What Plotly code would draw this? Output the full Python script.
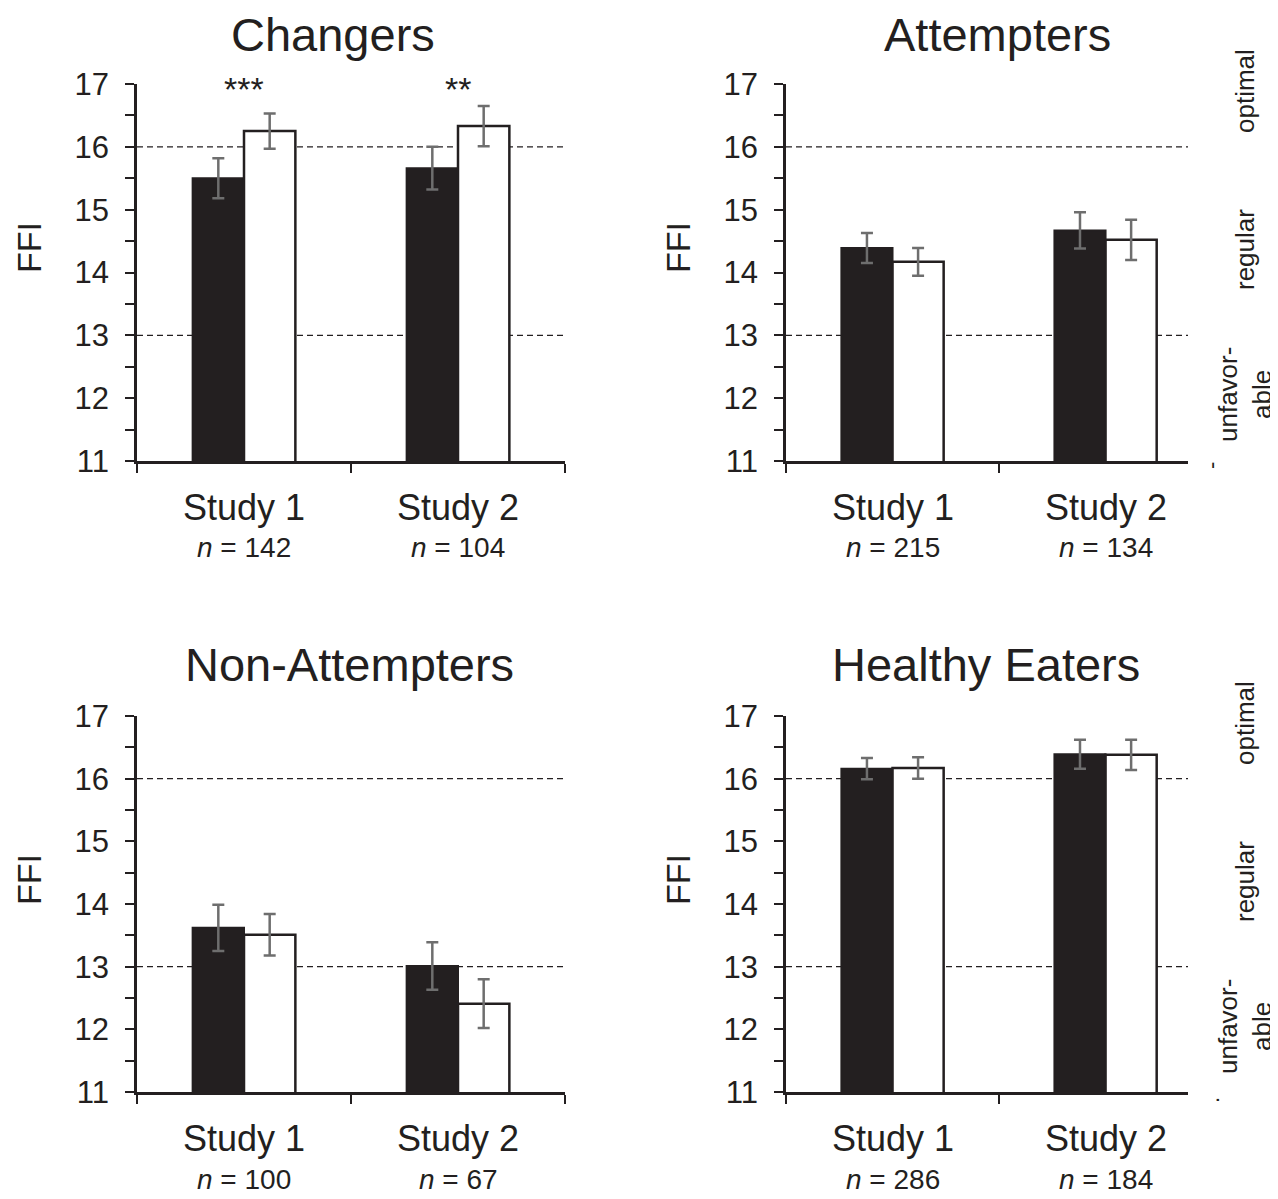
import plotly.graph_objects as go

# ---------------- data ----------------
groups = ["Changers", "Attempters", "Non-Attempters", "Healthy Eaters"]
studies = ["Study 1", "Study 2"]
study_pos = [0.5, 1.5]
n_values = [[142, 104], [215, 134], [100, 67], [286, 184]]
dark_means = [[15.50, 15.66], [14.39, 14.67], [13.62, 13.01], [16.16, 16.39]]
dark_err = [[0.32, 0.34], [0.24, 0.29], [0.37, 0.38], [0.17, 0.23]]
light_means = [[16.25, 16.33], [14.17, 14.52], [13.51, 12.41], [16.17, 16.38]]
light_err = [[0.28, 0.32], [0.22, 0.32], [0.33, 0.39], [0.17, 0.24]]
stars = [["***", "**"], ["", ""], ["", ""], ["", ""]]
y_ticks = [11, 11.5, 12, 12.5, 13, 13.5, 14, 14.5, 15, 15.5, 16, 16.5, 17]
ref_lines = [16, 13]
zone_labels = ["optimal", "regular", "unfavor-<br>able"]

# ---------------- layout geometry ----------------
W, H = 1278, 1199
OFF = 8  # page body margin of the browser
FONT = "Arial, 'Liberation Sans', sans-serif"
INK = "#231f20"
GRAY = "#6e6e6e"


def px_x(p):
    return (p - OFF) / W


def px_y(p):
    return 1 - (p - OFF) / H


# panel boxes in screen pixels: (left, right, top, bottom, xmax)
panels = [
    (137, 565, 84, 461, 2.0),
    (786, 1188, 84, 461, 1.887),
    (137, 565, 716, 1092, 2.0),
    (786, 1188, 716, 1092, 1.887),
]
title_pos = [(333, 35), (997, 35), (349, 664), (986, 664)]
ffi_y = [248, 248, 880, 880]
zone_offsets = [7, 166, 311]
edge_marks = [None, ("-", 466), None, (".", 1100)]

fig = go.Figure()
layout_axes = {}
annotations = []
shapes = []

for i, g in enumerate(groups):
    k = "" if i == 0 else str(i + 1)
    xa, ya = "x" + k, "y" + k
    L, R, T, B, xmax = panels[i]
    fig.add_trace(go.Bar(
        x=study_pos, y=dark_means[i], width=0.24, offset=-0.24,
        xaxis=xa, yaxis=ya,
        marker=dict(color=INK, line=dict(color=INK, width=2)),
        error_y=dict(type="data", array=dark_err[i], color=GRAY, thickness=2.5, width=6),
        showlegend=False,
    ))
    fig.add_trace(go.Bar(
        x=study_pos, y=light_means[i], width=0.24, offset=0.0,
        xaxis=xa, yaxis=ya,
        marker=dict(color="white", line=dict(color=INK, width=2.5)),
        error_y=dict(type="data", array=light_err[i], color=GRAY, thickness=2.5, width=6),
        showlegend=False,
    ))
    layout_axes["xaxis" + k] = dict(
        domain=[px_x(L), px_x(R)], range=[0, xmax], anchor=ya,
        tickvals=[0, 1, 2], showticklabels=False, ticks="outside", ticklen=9,
        tickwidth=2, tickcolor=INK, showline=True, linecolor=INK, linewidth=2.5,
        showgrid=False, zeroline=False, fixedrange=True,
    )
    layout_axes["yaxis" + k] = dict(
        domain=[px_y(B), px_y(T)], range=[11, 17], anchor=xa,
        tickvals=y_ticks,
        ticktext=[str(int(v)) if float(v).is_integer() else "" for v in y_ticks],
        ticks="outside", ticklen=9, tickwidth=2, tickcolor=INK,
        showline=True, linecolor=INK, linewidth=2.5, showgrid=False, zeroline=False,
        tickfont=dict(family=FONT, size=31, color=INK), ticklabelstandoff=10,
    )
    for rv in ref_lines:
        shapes.append(dict(
            type="line", xref=xa + " domain", yref=ya, x0=0, x1=1, y0=rv, y1=rv,
            line=dict(color=INK, width=1.3, dash="6px,4px"), layer="below",
        ))
    # panel title
    tx, ty = title_pos[i]
    annotations.append(dict(
        text=g, x=px_x(tx), y=px_y(ty), xref="paper", yref="paper",
        showarrow=False, xanchor="center", yanchor="middle",
        font=dict(family=FONT, size=47, color=INK),
    ))
    # y title
    annotations.append(dict(
        text="FFI", x=px_x(L - 108), y=px_y(ffi_y[i]), xref="paper", yref="paper",
        showarrow=False, textangle=-90, xanchor="center", yanchor="middle",
        font=dict(family=FONT, size=34, color=INK),
    ))
    # category labels
    for j, s in enumerate(studies):
        annotations.append(dict(
            text=s, x=study_pos[j], y=px_y(B + 46), xref=xa, yref="paper",
            showarrow=False, xanchor="center", yanchor="middle",
            font=dict(family=FONT, size=36, color=INK),
        ))
        annotations.append(dict(
            text="<i>n</i> = " + str(n_values[i][j]), x=study_pos[j], y=px_y(B + 87),
            xref=xa, yref="paper", showarrow=False, xanchor="center", yanchor="middle",
            font=dict(family=FONT, size=28, color=INK),
        ))
        if stars[i][j]:
            annotations.append(dict(
                text=stars[i][j], x=study_pos[j], y=px_y(T + 5), xref=xa, yref="paper",
                showarrow=False, xanchor="center", yanchor="middle",
                font=dict(family=FONT, size=34, color=INK),
            ))
    # zone labels on the right
    if i in (1, 3):
        for lab, dy in zip(zone_labels, zone_offsets):
            annotations.append(dict(
                text=lab, x=px_x(1245), y=px_y(T + dy), xref="paper", yref="paper",
                showarrow=False, textangle=-90, xanchor="center", yanchor="middle",
                font=dict(family=FONT, size=26, color=INK),
            ))
    if edge_marks[i]:
        mk, my = edge_marks[i]
        annotations.append(dict(
            text=mk, x=px_x(1211), y=px_y(my), xref="paper", yref="paper",
            showarrow=False, textangle=-90, xanchor="center", yanchor="middle",
            font=dict(family=FONT, size=22, color=INK),
        ))

fig.update_layout(
    width=W, height=H, margin=dict(l=0, r=0, t=0, b=0, autoexpand=False),
    paper_bgcolor="white", plot_bgcolor="white",
    barmode="overlay", showlegend=False,
    annotations=annotations, shapes=shapes,
    **layout_axes,
)

fig.write_html("out.html")
